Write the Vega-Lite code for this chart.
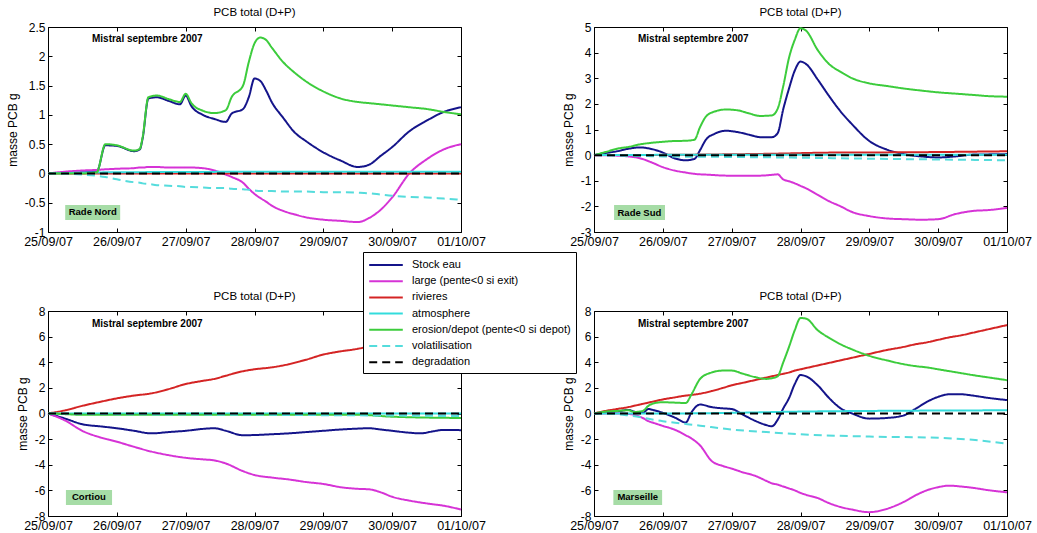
{
"$schema": "https://vega.github.io/schema/vega-lite/v6.json",
"background": "white",
"padding": {"left": 5, "top": 6, "right": 5, "bottom": 0},
"datasets": {
"noms": [
{"code":"B","serie":"Stock eau"},{"code":"M","serie":"large (pente<0 si exit)"},{"code":"R","serie":"rivieres"},{"code":"A","serie":"atmosphere"},{"code":"G","serie":"erosion/depot (pente<0 si depot)"},{"code":"V","serie":"volatilisation"},{"code":"D","serie":"degradation"}
],
"notes": [
{"p":"RN","k":"m","t":"2007-09-25T15:20","v":2.3,"txt":"Mistral septembre 2007"},
{"p":"RS","k":"m","t":"2007-09-25T15:20","v":4.53,"txt":"Mistral septembre 2007"},
{"p":"CO","k":"m","t":"2007-09-25T15:20","v":7.0,"txt":"Mistral septembre 2007"},
{"p":"MA","k":"m","t":"2007-09-25T15:20","v":7.0,"txt":"Mistral septembre 2007"},
{"p":"RN","k":"l","t":"2007-09-25T15:36","v":-0.667,"t1":"2007-09-25T06:00","t2":"2007-09-26T01:10","v1":-0.795,"v2":-0.539,"txt":"Rade Nord"},
{"p":"RS","k":"l","t":"2007-09-25T15:50","v":-2.24,"t1":"2007-09-25T07:00","t2":"2007-09-26T00:45","v1":-2.53,"v2":-1.95,"txt":"Rade Sud"},
{"p":"CO","k":"l","t":"2007-09-25T14:15","v":-6.55,"t1":"2007-09-25T06:15","t2":"2007-09-25T22:20","v1":-7.14,"v2":-5.97,"txt":"Cortiou"},
{"p":"MA","k":"l","t":"2007-09-25T15:15","v":-6.55,"t1":"2007-09-25T06:45","t2":"2007-09-25T23:45","v1":-7.14,"v2":-5.97,"txt":"Marseille"}
],
"flux": [
{"p":"RN","t":"2007-09-25T00:00","B":0,"M":0,"R":0,"A":0,"G":0,"V":0,"D":0},
{"p":"RN","t":"2007-09-25T06:00","B":0.01,"M":0.03,"G":0,"V":-0.005},
{"p":"RN","t":"2007-09-25T12:00","B":0.02,"M":0.05,"G":0,"V":-0.02},
{"p":"RN","t":"2007-09-25T17:00","B":0.03,"M":0.06,"G":0.02,"V":-0.04},
{"p":"RN","t":"2007-09-25T20:00","B":0.48,"M":0.07,"G":0.5,"V":-0.06},
{"p":"RN","t":"2007-09-26T00:00","B":0.47,"M":0.08,"A":0.02,"G":0.48,"V":-0.1},
{"p":"RN","t":"2007-09-26T06:00","B":0.38,"M":0.09,"G":0.39,"V":-0.15},
{"p":"RN","t":"2007-09-26T08:00","B":0.41,"M":0.1,"G":0.42,"V":-0.16},
{"p":"RN","t":"2007-09-26T09:00","B":0.6,"M":0.1,"G":0.62,"V":-0.17},
{"p":"RN","t":"2007-09-26T11:00","B":1.28,"M":0.11,"G":1.3,"V":-0.18},
{"p":"RN","t":"2007-09-26T14:00","B":1.3,"M":0.11,"G":1.33,"V":-0.2},
{"p":"RN","t":"2007-09-26T18:00","B":1.24,"M":0.1,"G":1.27,"V":-0.21},
{"p":"RN","t":"2007-09-26T22:00","B":1.18,"M":0.1,"G":1.22,"V":-0.22},
{"p":"RN","t":"2007-09-27T00:00","B":1.33,"M":0.1,"G":1.36,"V":-0.23},
{"p":"RN","t":"2007-09-27T02:00","B":1.15,"M":0.1,"G":1.2,"V":-0.23},
{"p":"RN","t":"2007-09-27T06:00","B":1.0,"M":0.09,"G":1.07,"V":-0.24},
{"p":"RN","t":"2007-09-27T10:00","B":0.93,"M":0.05,"G":1.03,"V":-0.25},
{"p":"RN","t":"2007-09-27T14:00","B":0.88,"M":-0.02,"G":1.08,"V":-0.25},
{"p":"RN","t":"2007-09-27T16:00","B":1.02,"M":-0.06,"G":1.3,"V":-0.26},
{"p":"RN","t":"2007-09-27T20:00","B":1.1,"M":-0.16,"G":1.5,"V":-0.27},
{"p":"RN","t":"2007-09-27T22:00","B":1.3,"M":-0.26,"G":1.9,"V":-0.28},
{"p":"RN","t":"2007-09-28T00:00","B":1.62,"M":-0.35,"G":2.22,"V":-0.29},
{"p":"RN","t":"2007-09-28T02:00","B":1.58,"M":-0.42,"G":2.32,"V":-0.3},
{"p":"RN","t":"2007-09-28T04:00","B":1.42,"M":-0.48,"G":2.28,"V":-0.3},
{"p":"RN","t":"2007-09-28T06:00","B":1.22,"M":-0.55,"G":2.15,"V":-0.3},
{"p":"RN","t":"2007-09-28T10:00","B":0.95,"M":-0.64,"G":1.9,"V":-0.31},
{"p":"RN","t":"2007-09-28T14:00","B":0.7,"M":-0.7,"G":1.72,"V":-0.31},
{"p":"RN","t":"2007-09-28T18:00","B":0.55,"M":-0.75,"G":1.57,"V":-0.31},
{"p":"RN","t":"2007-09-29T00:00","B":0.36,"M":-0.79,"G":1.4,"V":-0.32},
{"p":"RN","t":"2007-09-29T06:00","B":0.22,"M":-0.81,"G":1.28,"V":-0.32},
{"p":"RN","t":"2007-09-29T12:00","B":0.11,"M":-0.83,"A":0.03,"G":1.22,"V":-0.33},
{"p":"RN","t":"2007-09-29T16:00","B":0.15,"M":-0.76,"G":1.2,"V":-0.34},
{"p":"RN","t":"2007-09-29T20:00","B":0.3,"M":-0.62,"G":1.18,"V":-0.36},
{"p":"RN","t":"2007-09-30T00:00","B":0.45,"M":-0.41,"G":1.16,"V":-0.38},
{"p":"RN","t":"2007-09-30T06:00","B":0.72,"M":0,"G":1.13,"V":-0.4},
{"p":"RN","t":"2007-09-30T12:00","B":0.9,"M":0.24,"G":1.1,"V":-0.41},
{"p":"RN","t":"2007-09-30T18:00","B":1.05,"M":0.41,"G":1.05,"V":-0.43},
{"p":"RN","t":"2007-10-01T00:00","B":1.13,"M":0.5,"R":0,"A":0.03,"G":1.01,"V":-0.45,"D":0},
{"p":"RS","t":"2007-09-25T00:00","B":0,"M":0,"R":0,"A":0,"G":0,"V":0,"D":0},
{"p":"RS","t":"2007-09-25T04:00","B":0.08,"M":0,"G":0.12,"V":-0.01},
{"p":"RS","t":"2007-09-25T08:00","B":0.15,"M":-0.02,"G":0.25,"V":-0.02},
{"p":"RS","t":"2007-09-25T12:00","B":0.25,"M":-0.05,"G":0.32,"V":-0.03},
{"p":"RS","t":"2007-09-25T16:00","B":0.3,"M":-0.12,"G":0.42,"V":-0.03},
{"p":"RS","t":"2007-09-25T20:00","B":0.24,"M":-0.28,"G":0.48,"V":-0.04},
{"p":"RS","t":"2007-09-26T00:00","B":0.1,"M":-0.47,"A":0.01,"G":0.52,"V":-0.05},
{"p":"RS","t":"2007-09-26T04:00","B":-0.12,"M":-0.6,"G":0.55},
{"p":"RS","t":"2007-09-26T08:00","B":-0.2,"M":-0.68,"G":0.56},
{"p":"RS","t":"2007-09-26T11:00","B":-0.15,"M":-0.73,"G":0.6},
{"p":"RS","t":"2007-09-26T12:00","R":0.02},
{"p":"RS","t":"2007-09-26T13:00","B":0.2,"M":-0.75,"G":1.1},
{"p":"RS","t":"2007-09-26T15:00","B":0.6,"M":-0.76,"G":1.5},
{"p":"RS","t":"2007-09-26T18:00","B":0.83,"M":-0.78,"G":1.7},
{"p":"RS","t":"2007-09-26T22:00","B":0.95,"M":-0.8,"G":1.78,"V":-0.07},
{"p":"RS","t":"2007-09-27T02:00","B":0.9,"M":-0.8,"G":1.75},
{"p":"RS","t":"2007-09-27T06:00","B":0.8,"M":-0.8,"G":1.63},
{"p":"RS","t":"2007-09-27T10:00","B":0.7,"M":-0.8,"G":1.53},
{"p":"RS","t":"2007-09-27T12:00","R":0.05},
{"p":"RS","t":"2007-09-27T14:00","B":0.7,"M":-0.77,"G":1.55},
{"p":"RS","t":"2007-09-27T16:00","B":0.85,"M":-0.75,"G":1.8},
{"p":"RS","t":"2007-09-27T18:00","B":1.8,"M":-0.95,"G":2.7},
{"p":"RS","t":"2007-09-27T20:00","B":2.6,"M":-1.02,"G":3.8},
{"p":"RS","t":"2007-09-27T22:00","B":3.3,"M":-1.1,"G":4.5},
{"p":"RS","t":"2007-09-28T00:00","B":3.65,"M":-1.2,"G":4.95,"V":-0.1},
{"p":"RS","t":"2007-09-28T02:00","B":3.55,"M":-1.3,"G":4.85},
{"p":"RS","t":"2007-09-28T06:00","B":2.95,"M":-1.55,"G":4.1},
{"p":"RS","t":"2007-09-28T10:00","B":2.3,"M":-1.8,"G":3.55},
{"p":"RS","t":"2007-09-28T12:00","R":0.1},
{"p":"RS","t":"2007-09-28T14:00","B":1.7,"M":-2.0,"G":3.25},
{"p":"RS","t":"2007-09-28T18:00","B":1.2,"M":-2.22,"G":3.0},
{"p":"RS","t":"2007-09-29T00:00","B":0.55,"M":-2.38,"G":2.8,"V":-0.14},
{"p":"RS","t":"2007-09-29T06:00","B":0.22,"M":-2.47,"G":2.7},
{"p":"RS","t":"2007-09-29T12:00","B":0.04,"M":-2.5,"R":0.11,"G":2.6},
{"p":"RS","t":"2007-09-29T18:00","B":-0.05,"M":-2.52,"G":2.52},
{"p":"RS","t":"2007-09-30T00:00","B":-0.09,"M":-2.5,"G":2.45,"V":-0.17},
{"p":"RS","t":"2007-09-30T06:00","B":-0.05,"M":-2.3,"G":2.4},
{"p":"RS","t":"2007-09-30T12:00","B":0.02,"M":-2.18,"G":2.35},
{"p":"RS","t":"2007-09-30T18:00","B":0.03,"M":-2.14,"G":2.3},
{"p":"RS","t":"2007-10-01T00:00","B":0.04,"M":-2.06,"R":0.15,"A":0.01,"G":2.28,"V":-0.2,"D":0},
{"p":"CO","t":"2007-09-25T00:00","B":0,"M":0,"R":0,"A":0,"G":0,"V":0,"D":0},
{"p":"CO","t":"2007-09-25T06:00","B":-0.4,"M":-0.55,"R":0.25,"G":-0.05},
{"p":"CO","t":"2007-09-25T12:00","B":-0.84,"M":-1.36,"R":0.6,"G":-0.1,"V":-0.02},
{"p":"CO","t":"2007-09-25T18:00","B":-1.0,"M":-1.85,"R":0.9},
{"p":"CO","t":"2007-09-26T00:00","B":-1.15,"M":-2.2,"R":1.18,"V":-0.05},
{"p":"CO","t":"2007-09-26T06:00","B":-1.35,"M":-2.6,"R":1.4},
{"p":"CO","t":"2007-09-26T12:00","B":-1.55,"M":-2.97,"R":1.57},
{"p":"CO","t":"2007-09-26T18:00","B":-1.45,"M":-3.25,"R":1.9},
{"p":"CO","t":"2007-09-27T00:00","B":-1.35,"M":-3.46,"R":2.3,"V":-0.08},
{"p":"CO","t":"2007-09-27T06:00","B":-1.2,"M":-3.58,"R":2.55},
{"p":"CO","t":"2007-09-27T10:00","B":-1.15,"M":-3.66,"R":2.7},
{"p":"CO","t":"2007-09-27T14:00","B":-1.35,"M":-3.9,"R":2.95},
{"p":"CO","t":"2007-09-27T20:00","B":-1.7,"M":-4.5,"R":3.3},
{"p":"CO","t":"2007-09-28T00:00","B":-1.68,"M":-4.8,"R":3.45,"V":-0.1},
{"p":"CO","t":"2007-09-28T06:00","B":-1.62,"M":-5.0,"R":3.6},
{"p":"CO","t":"2007-09-28T12:00","B":-1.55,"M":-5.15,"R":3.85},
{"p":"CO","t":"2007-09-28T18:00","B":-1.45,"M":-5.35,"R":4.2},
{"p":"CO","t":"2007-09-29T00:00","B":-1.35,"M":-5.5,"R":4.6,"V":-0.13},
{"p":"CO","t":"2007-09-29T06:00","B":-1.25,"M":-5.75,"R":4.85},
{"p":"CO","t":"2007-09-29T12:00","B":-1.18,"M":-5.88,"R":5.05,"G":-0.1},
{"p":"CO","t":"2007-09-29T16:00","B":-1.15,"M":-5.92,"R":5.25},
{"p":"CO","t":"2007-09-29T20:00","B":-1.25,"M":-6.15,"R":5.5},
{"p":"CO","t":"2007-09-30T00:00","B":-1.35,"M":-6.5,"R":5.7,"G":-0.25,"V":-0.16},
{"p":"CO","t":"2007-09-30T06:00","B":-1.5,"M":-6.8,"R":5.9},
{"p":"CO","t":"2007-09-30T10:00","B":-1.55,"M":-6.95,"R":6.1},
{"p":"CO","t":"2007-09-30T14:00","B":-1.4,"M":-7.08,"R":6.25},
{"p":"CO","t":"2007-09-30T18:00","B":-1.28,"M":-7.2,"R":6.4},
{"p":"CO","t":"2007-10-01T00:00","B":-1.3,"M":-7.5,"R":6.6,"A":0,"G":-0.35,"V":-0.2,"D":0},
{"p":"MA","t":"2007-09-25T00:00","B":0,"M":0,"R":0,"A":0,"G":0,"V":0,"D":0},
{"p":"MA","t":"2007-09-25T04:00","B":0.1,"M":0,"R":0.2,"G":0.15,"V":-0.02},
{"p":"MA","t":"2007-09-25T08:00","B":0.15,"M":0,"R":0.35,"G":0.2,"V":-0.05},
{"p":"MA","t":"2007-09-25T12:00","B":0.28,"M":-0.03,"R":0.5,"G":0.25,"V":-0.15},
{"p":"MA","t":"2007-09-25T14:00","B":0.15,"M":-0.1,"R":0.6,"G":0.12},
{"p":"MA","t":"2007-09-25T17:00","B":0.05,"M":-0.35,"R":0.75,"G":0.2},
{"p":"MA","t":"2007-09-25T19:00","B":0.35,"M":-0.6,"R":0.85,"G":0.6},
{"p":"MA","t":"2007-09-25T21:00","B":0.25,"M":-0.75,"R":0.95,"G":0.8},
{"p":"MA","t":"2007-09-26T00:00","B":0.05,"M":-0.97,"R":1.1,"A":0,"G":0.88,"V":-0.6},
{"p":"MA","t":"2007-09-26T04:00","B":-0.3,"M":-1.25,"R":1.25,"G":0.85},
{"p":"MA","t":"2007-09-26T08:00","B":-0.7,"M":-1.7,"R":1.4,"G":0.82},
{"p":"MA","t":"2007-09-26T10:00","B":0.1,"M":-1.95,"R":1.45,"G":1.5},
{"p":"MA","t":"2007-09-26T13:00","B":0.7,"M":-2.5,"R":1.55,"G":2.7,"V":-0.95},
{"p":"MA","t":"2007-09-26T17:00","B":0.5,"M":-3.7,"R":1.75,"G":3.2},
{"p":"MA","t":"2007-09-26T21:00","B":0.4,"M":-4.1,"R":2.0,"G":3.35},
{"p":"MA","t":"2007-09-27T00:00","B":0.35,"M":-4.3,"R":2.2,"A":0.05,"G":3.35,"V":-1.25},
{"p":"MA","t":"2007-09-27T04:00","B":-0.1,"M":-4.6,"R":2.4,"G":3.1},
{"p":"MA","t":"2007-09-27T08:00","B":-0.55,"M":-4.85,"R":2.6,"G":2.85},
{"p":"MA","t":"2007-09-27T12:00","B":-0.9,"M":-5.25,"R":2.8,"G":2.7,"V":-1.45},
{"p":"MA","t":"2007-09-27T14:00","B":-1.0,"M":-5.45,"R":2.9,"G":2.75},
{"p":"MA","t":"2007-09-27T16:00","B":-0.5,"M":-5.55,"R":3.0,"G":2.9},
{"p":"MA","t":"2007-09-27T18:00","B":0.4,"M":-5.7,"R":3.1,"G":4.0},
{"p":"MA","t":"2007-09-27T20:00","B":1.2,"M":-5.85,"R":3.2,"G":5.2},
{"p":"MA","t":"2007-09-27T22:00","B":2.3,"M":-6.0,"R":3.35,"G":6.5},
{"p":"MA","t":"2007-09-28T00:00","B":3.0,"M":-6.2,"R":3.45,"A":0.15,"G":7.45,"V":-1.62},
{"p":"MA","t":"2007-09-28T02:00","B":2.9,"M":-6.35,"R":3.55,"G":7.4},
{"p":"MA","t":"2007-09-28T06:00","B":2.2,"M":-6.6,"R":3.75,"G":6.5},
{"p":"MA","t":"2007-09-28T10:00","B":1.2,"M":-7.0,"R":3.95,"G":5.9},
{"p":"MA","t":"2007-09-28T14:00","B":0.4,"M":-7.3,"R":4.15,"G":5.4},
{"p":"MA","t":"2007-09-28T18:00","B":0,"M":-7.5,"R":4.35,"G":5.0},
{"p":"MA","t":"2007-09-29T00:00","B":-0.4,"M":-7.7,"R":4.65,"A":0.2,"G":4.5,"V":-1.8},
{"p":"MA","t":"2007-09-29T06:00","B":-0.35,"M":-7.45,"R":4.95,"G":4.15},
{"p":"MA","t":"2007-09-29T12:00","B":-0.15,"M":-6.9,"R":5.2,"G":3.85},
{"p":"MA","t":"2007-09-29T16:00","B":0.35,"M":-6.4,"R":5.4,"G":3.7},
{"p":"MA","t":"2007-09-29T20:00","B":0.9,"M":-6.0,"R":5.55,"G":3.6},
{"p":"MA","t":"2007-09-30T00:00","B":1.3,"M":-5.75,"R":5.75,"G":3.45,"V":-1.9},
{"p":"MA","t":"2007-09-30T04:00","B":1.5,"M":-5.63,"R":5.95,"G":3.3},
{"p":"MA","t":"2007-09-30T08:00","B":1.5,"M":-5.7,"R":6.1,"G":3.15},
{"p":"MA","t":"2007-09-30T12:00","B":1.4,"M":-5.8,"R":6.3,"G":3.0,"V":-2.05},
{"p":"MA","t":"2007-09-30T18:00","B":1.2,"M":-6.0,"R":6.6,"G":2.8},
{"p":"MA","t":"2007-10-01T00:00","B":1.05,"M":-6.15,"R":6.9,"A":0.25,"G":2.6,"V":-2.36,"D":0}
]
},
"columns": 2,
"spacing": {"row": 79, "column": 133},
"bounds": "flush",
"resolve": {"scale": {"color": "shared", "strokeDash": "shared"}},
"concat": [
{
"width": 413, "height": 205, "title": "PCB total (D+P)",
"resolve": {"axis": {"x": "independent", "y": "independent"}},
"layer": [
{"data": {"name": "flux"},
 "transform": [{"filter": "datum.p === 'RN'"},{"fold": ["B","M","R","A","G","V","D"], "as": ["code","valeur"]},{"filter": "isValid(datum.valeur)"},{"lookup": "code", "from": {"data": {"name": "noms"}, "key": "code", "fields": ["serie"]}}],
 "mark": {"type": "line", "strokeWidth": 2, "interpolate": "monotone"},
 "encoding": {
  "x": {"field": "t", "type": "temporal", "scale": {"domain": [{"year":2007,"month":9,"date":25},{"year":2007,"month":10,"date":1}]}, "axis": {"format": "%d/%m/%y", "tickCount": {"interval": "day", "step": 1}, "title": null, "labelFlush": false, "labelOverlap": false}},
  "y": {"field": "valeur", "type": "quantitative", "scale": {"domain": [-1, 2.5], "nice": false}, "axis": {"values": [-1,-0.5,0,0.5,1,1.5,2,2.5], "title": "masse PCB g", "labelExpr": "'' + datum.value"}},
  "color": {"field": "serie", "type": "nominal", "scale": {"domain": ["Stock eau","large (pente<0 si exit)","rivieres","atmosphere","erosion/depot (pente<0 si depot)","volatilisation","degradation"], "range": ["#14148a","#d633d6","#d42424","#33dcdc","#3ccc3c","#55dcdc","#000000"]}, "legend": {"title": null, "orient": "none", "legendX": 315, "legendY": 225, "symbolType": "M-2.4,0L2.4,0", "symbolSize": 196, "symbolStrokeWidth": 2, "symbolOffset": 10, "labelOffset": 18, "labelFontSize": 11, "labelColor": "black", "fillColor": "white", "strokeColor": "black", "padding": 5, "rowPadding": 3.2}},
  "strokeDash": {"field": "serie", "type": "nominal", "scale": {"domain": ["Stock eau","large (pente<0 si exit)","rivieres","atmosphere","erosion/depot (pente<0 si depot)","volatilisation","degradation"], "range": [[1,0],[1,0],[1,0],[1,0],[1,0],[8,5],[8,5]]}, "legend": {"title": null, "orient": "none", "legendX": 315, "legendY": 225, "symbolType": "M-2.4,0L2.4,0", "symbolSize": 196, "symbolStrokeWidth": 2, "symbolOffset": 10, "labelOffset": 18, "labelFontSize": 11, "labelColor": "black", "fillColor": "white", "strokeColor": "black", "padding": 5, "rowPadding": 3.2}}
 }},
{"data": {"name": "notes"},
 "transform": [{"filter": "datum.p === 'RN' && datum.k === 'l'"}],
 "mark": {"type": "rect", "fill": "#a6dca6"},
 "encoding": {
  "x": {"field": "t1", "type": "temporal", "axis": {"orient": "top", "labels": false, "title": null, "tickCount": {"interval": "day", "step": 1}}},
  "x2": {"field": "t2"},
  "y": {"field": "v1", "type": "quantitative", "axis": {"orient": "right", "labels": false, "title": null, "values": [-1,-0.5,0,0.5,1,1.5,2,2.5]}},
  "y2": {"field": "v2"}
 }},
{"data": {"name": "notes"},
 "transform": [{"filter": "datum.p === 'RN' && datum.k === 'm'"}],
 "mark": {"type": "text", "fontWeight": "bold", "fontSize": 10, "align": "left", "baseline": "middle", "color": "black"},
 "encoding": {"x": {"field": "t", "type": "temporal", "axis": null}, "y": {"field": "v", "type": "quantitative", "axis": null}, "text": {"field": "txt"}}},
{"data": {"name": "notes"},
 "transform": [{"filter": "datum.p === 'RN' && datum.k === 'l'"}],
 "mark": {"type": "text", "fontWeight": "bold", "fontSize": 9.5, "align": "center", "baseline": "middle", "color": "black"},
 "encoding": {"x": {"field": "t", "type": "temporal", "axis": null}, "y": {"field": "v", "type": "quantitative", "axis": null}, "text": {"field": "txt"}}}
]
},
{
"width": 413, "height": 205, "title": "PCB total (D+P)",
"resolve": {"axis": {"x": "independent", "y": "independent"}},
"layer": [
{"data": {"name": "flux"},
 "transform": [{"filter": "datum.p === 'RS'"},{"fold": ["B","M","R","A","G","V","D"], "as": ["code","valeur"]},{"filter": "isValid(datum.valeur)"},{"lookup": "code", "from": {"data": {"name": "noms"}, "key": "code", "fields": ["serie"]}}],
 "mark": {"type": "line", "strokeWidth": 2, "interpolate": "monotone"},
 "encoding": {
  "x": {"field": "t", "type": "temporal", "scale": {"domain": [{"year":2007,"month":9,"date":25},{"year":2007,"month":10,"date":1}]}, "axis": {"format": "%d/%m/%y", "tickCount": {"interval": "day", "step": 1}, "title": null, "labelFlush": false, "labelOverlap": false}},
  "y": {"field": "valeur", "type": "quantitative", "scale": {"domain": [-3, 5], "nice": false}, "axis": {"values": [-3,-2,-1,0,1,2,3,4,5], "title": "masse PCB g", "labelExpr": "'' + datum.value"}},
  "color": {"field": "serie", "type": "nominal", "scale": {"domain": ["Stock eau","large (pente<0 si exit)","rivieres","atmosphere","erosion/depot (pente<0 si depot)","volatilisation","degradation"], "range": ["#14148a","#d633d6","#d42424","#33dcdc","#3ccc3c","#55dcdc","#000000"]}, "legend": {"title": null, "orient": "none", "legendX": 315, "legendY": 225, "symbolType": "M-2.4,0L2.4,0", "symbolSize": 196, "symbolStrokeWidth": 2, "symbolOffset": 10, "labelOffset": 18, "labelFontSize": 11, "labelColor": "black", "fillColor": "white", "strokeColor": "black", "padding": 5, "rowPadding": 3.2}},
  "strokeDash": {"field": "serie", "type": "nominal", "scale": {"domain": ["Stock eau","large (pente<0 si exit)","rivieres","atmosphere","erosion/depot (pente<0 si depot)","volatilisation","degradation"], "range": [[1,0],[1,0],[1,0],[1,0],[1,0],[8,5],[8,5]]}, "legend": {"title": null, "orient": "none", "legendX": 315, "legendY": 225, "symbolType": "M-2.4,0L2.4,0", "symbolSize": 196, "symbolStrokeWidth": 2, "symbolOffset": 10, "labelOffset": 18, "labelFontSize": 11, "labelColor": "black", "fillColor": "white", "strokeColor": "black", "padding": 5, "rowPadding": 3.2}}
 }},
{"data": {"name": "notes"},
 "transform": [{"filter": "datum.p === 'RS' && datum.k === 'l'"}],
 "mark": {"type": "rect", "fill": "#a6dca6"},
 "encoding": {
  "x": {"field": "t1", "type": "temporal", "axis": {"orient": "top", "labels": false, "title": null, "tickCount": {"interval": "day", "step": 1}}},
  "x2": {"field": "t2"},
  "y": {"field": "v1", "type": "quantitative", "axis": {"orient": "right", "labels": false, "title": null, "values": [-3,-2,-1,0,1,2,3,4,5]}},
  "y2": {"field": "v2"}
 }},
{"data": {"name": "notes"},
 "transform": [{"filter": "datum.p === 'RS' && datum.k === 'm'"}],
 "mark": {"type": "text", "fontWeight": "bold", "fontSize": 10, "align": "left", "baseline": "middle", "color": "black"},
 "encoding": {"x": {"field": "t", "type": "temporal", "axis": null}, "y": {"field": "v", "type": "quantitative", "axis": null}, "text": {"field": "txt"}}},
{"data": {"name": "notes"},
 "transform": [{"filter": "datum.p === 'RS' && datum.k === 'l'"}],
 "mark": {"type": "text", "fontWeight": "bold", "fontSize": 9.5, "align": "center", "baseline": "middle", "color": "black"},
 "encoding": {"x": {"field": "t", "type": "temporal", "axis": null}, "y": {"field": "v", "type": "quantitative", "axis": null}, "text": {"field": "txt"}}}
]
},
{
"width": 413, "height": 205, "title": "PCB total (D+P)",
"resolve": {"axis": {"x": "independent", "y": "independent"}},
"layer": [
{"data": {"name": "flux"},
 "transform": [{"filter": "datum.p === 'CO'"},{"fold": ["B","M","R","A","G","V","D"], "as": ["code","valeur"]},{"filter": "isValid(datum.valeur)"},{"lookup": "code", "from": {"data": {"name": "noms"}, "key": "code", "fields": ["serie"]}}],
 "mark": {"type": "line", "strokeWidth": 2, "interpolate": "monotone"},
 "encoding": {
  "x": {"field": "t", "type": "temporal", "scale": {"domain": [{"year":2007,"month":9,"date":25},{"year":2007,"month":10,"date":1}]}, "axis": {"format": "%d/%m/%y", "tickCount": {"interval": "day", "step": 1}, "title": null, "labelFlush": false, "labelOverlap": false}},
  "y": {"field": "valeur", "type": "quantitative", "scale": {"domain": [-8, 8], "nice": false}, "axis": {"values": [-8,-6,-4,-2,0,2,4,6,8], "title": "masse PCB g", "labelExpr": "'' + datum.value"}},
  "color": {"field": "serie", "type": "nominal", "scale": {"domain": ["Stock eau","large (pente<0 si exit)","rivieres","atmosphere","erosion/depot (pente<0 si depot)","volatilisation","degradation"], "range": ["#14148a","#d633d6","#d42424","#33dcdc","#3ccc3c","#55dcdc","#000000"]}, "legend": {"title": null, "orient": "none", "legendX": 315, "legendY": 225, "symbolType": "M-2.4,0L2.4,0", "symbolSize": 196, "symbolStrokeWidth": 2, "symbolOffset": 10, "labelOffset": 18, "labelFontSize": 11, "labelColor": "black", "fillColor": "white", "strokeColor": "black", "padding": 5, "rowPadding": 3.2}},
  "strokeDash": {"field": "serie", "type": "nominal", "scale": {"domain": ["Stock eau","large (pente<0 si exit)","rivieres","atmosphere","erosion/depot (pente<0 si depot)","volatilisation","degradation"], "range": [[1,0],[1,0],[1,0],[1,0],[1,0],[8,5],[8,5]]}, "legend": {"title": null, "orient": "none", "legendX": 315, "legendY": 225, "symbolType": "M-2.4,0L2.4,0", "symbolSize": 196, "symbolStrokeWidth": 2, "symbolOffset": 10, "labelOffset": 18, "labelFontSize": 11, "labelColor": "black", "fillColor": "white", "strokeColor": "black", "padding": 5, "rowPadding": 3.2}}
 }},
{"data": {"name": "notes"},
 "transform": [{"filter": "datum.p === 'CO' && datum.k === 'l'"}],
 "mark": {"type": "rect", "fill": "#a6dca6"},
 "encoding": {
  "x": {"field": "t1", "type": "temporal", "axis": {"orient": "top", "labels": false, "title": null, "tickCount": {"interval": "day", "step": 1}}},
  "x2": {"field": "t2"},
  "y": {"field": "v1", "type": "quantitative", "axis": {"orient": "right", "labels": false, "title": null, "values": [-8,-6,-4,-2,0,2,4,6,8]}},
  "y2": {"field": "v2"}
 }},
{"data": {"name": "notes"},
 "transform": [{"filter": "datum.p === 'CO' && datum.k === 'm'"}],
 "mark": {"type": "text", "fontWeight": "bold", "fontSize": 10, "align": "left", "baseline": "middle", "color": "black"},
 "encoding": {"x": {"field": "t", "type": "temporal", "axis": null}, "y": {"field": "v", "type": "quantitative", "axis": null}, "text": {"field": "txt"}}},
{"data": {"name": "notes"},
 "transform": [{"filter": "datum.p === 'CO' && datum.k === 'l'"}],
 "mark": {"type": "text", "fontWeight": "bold", "fontSize": 9.5, "align": "center", "baseline": "middle", "color": "black"},
 "encoding": {"x": {"field": "t", "type": "temporal", "axis": null}, "y": {"field": "v", "type": "quantitative", "axis": null}, "text": {"field": "txt"}}}
]
},
{
"width": 413, "height": 205, "title": "PCB total (D+P)",
"resolve": {"axis": {"x": "independent", "y": "independent"}},
"layer": [
{"data": {"name": "flux"},
 "transform": [{"filter": "datum.p === 'MA'"},{"fold": ["B","M","R","A","G","V","D"], "as": ["code","valeur"]},{"filter": "isValid(datum.valeur)"},{"lookup": "code", "from": {"data": {"name": "noms"}, "key": "code", "fields": ["serie"]}}],
 "mark": {"type": "line", "strokeWidth": 2, "interpolate": "monotone"},
 "encoding": {
  "x": {"field": "t", "type": "temporal", "scale": {"domain": [{"year":2007,"month":9,"date":25},{"year":2007,"month":10,"date":1}]}, "axis": {"format": "%d/%m/%y", "tickCount": {"interval": "day", "step": 1}, "title": null, "labelFlush": false, "labelOverlap": false}},
  "y": {"field": "valeur", "type": "quantitative", "scale": {"domain": [-8, 8], "nice": false}, "axis": {"values": [-8,-6,-4,-2,0,2,4,6,8], "title": "masse PCB g", "labelExpr": "'' + datum.value"}},
  "color": {"field": "serie", "type": "nominal", "scale": {"domain": ["Stock eau","large (pente<0 si exit)","rivieres","atmosphere","erosion/depot (pente<0 si depot)","volatilisation","degradation"], "range": ["#14148a","#d633d6","#d42424","#33dcdc","#3ccc3c","#55dcdc","#000000"]}, "legend": {"title": null, "orient": "none", "legendX": 315, "legendY": 225, "symbolType": "M-2.4,0L2.4,0", "symbolSize": 196, "symbolStrokeWidth": 2, "symbolOffset": 10, "labelOffset": 18, "labelFontSize": 11, "labelColor": "black", "fillColor": "white", "strokeColor": "black", "padding": 5, "rowPadding": 3.2}},
  "strokeDash": {"field": "serie", "type": "nominal", "scale": {"domain": ["Stock eau","large (pente<0 si exit)","rivieres","atmosphere","erosion/depot (pente<0 si depot)","volatilisation","degradation"], "range": [[1,0],[1,0],[1,0],[1,0],[1,0],[8,5],[8,5]]}, "legend": {"title": null, "orient": "none", "legendX": 315, "legendY": 225, "symbolType": "M-2.4,0L2.4,0", "symbolSize": 196, "symbolStrokeWidth": 2, "symbolOffset": 10, "labelOffset": 18, "labelFontSize": 11, "labelColor": "black", "fillColor": "white", "strokeColor": "black", "padding": 5, "rowPadding": 3.2}}
 }},
{"data": {"name": "notes"},
 "transform": [{"filter": "datum.p === 'MA' && datum.k === 'l'"}],
 "mark": {"type": "rect", "fill": "#a6dca6"},
 "encoding": {
  "x": {"field": "t1", "type": "temporal", "axis": {"orient": "top", "labels": false, "title": null, "tickCount": {"interval": "day", "step": 1}}},
  "x2": {"field": "t2"},
  "y": {"field": "v1", "type": "quantitative", "axis": {"orient": "right", "labels": false, "title": null, "values": [-8,-6,-4,-2,0,2,4,6,8]}},
  "y2": {"field": "v2"}
 }},
{"data": {"name": "notes"},
 "transform": [{"filter": "datum.p === 'MA' && datum.k === 'm'"}],
 "mark": {"type": "text", "fontWeight": "bold", "fontSize": 10, "align": "left", "baseline": "middle", "color": "black"},
 "encoding": {"x": {"field": "t", "type": "temporal", "axis": null}, "y": {"field": "v", "type": "quantitative", "axis": null}, "text": {"field": "txt"}}},
{"data": {"name": "notes"},
 "transform": [{"filter": "datum.p === 'MA' && datum.k === 'l'"}],
 "mark": {"type": "text", "fontWeight": "bold", "fontSize": 9.5, "align": "center", "baseline": "middle", "color": "black"},
 "encoding": {"x": {"field": "t", "type": "temporal", "axis": null}, "y": {"field": "v", "type": "quantitative", "axis": null}, "text": {"field": "txt"}}}
]
}
],
"config": {
 "font": "Liberation Sans",
 "view": {"stroke": "black", "strokeWidth": 1},
 "axis": {"grid": false, "domain": false, "tickColor": "black", "tickSize": -4, "labelPadding": 7, "labelColor": "black", "labelFontSize": 12, "titleFontSize": 12, "titleFontWeight": "normal", "titleColor": "black", "titlePadding": 5},
 "axisX": {"labelFontSize": 12.5, "labelPadding": 7.5},
 "title": {"fontSize": 11.5, "fontWeight": "normal", "color": "black", "offset": 3}
}
}
